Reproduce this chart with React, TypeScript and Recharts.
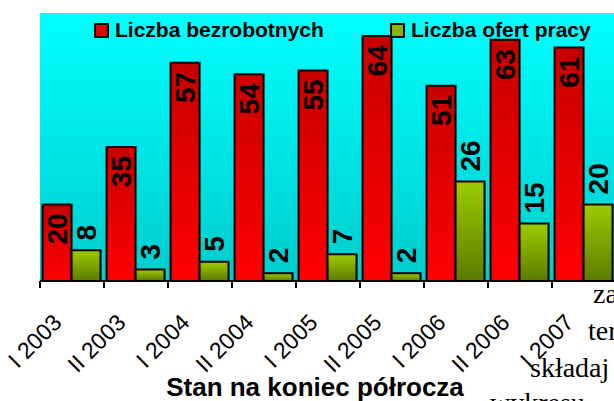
import React from "react";
import { BarChart, Bar, XAxis, YAxis, CartesianGrid, LabelList } from "recharts";

const categories = ["I 2003", "II 2003", "I 2004", "II 2004", "I 2005", "II 2005", "I 2006", "II 2006", "I 2007"];
const unemployed = [20, 35, 57, 54, 55, 64, 51, 63, 61];
const jobOffers = [8, 3, 5, 2, 7, 2, 26, 15, 20];
const seriesNames = ["Liczba bezrobotnych", "Liczba ofert pracy"];

const data = categories.map((cat, i) => ({ cat, u: unemployed[i], o: jobOffers[i] }));

const FONT = "'Liberation Sans', Arial, sans-serif";
const PLOT_LEFT = 40;
const PLOT_RIGHT = 616;
const PLOT_TOP = 13;
const PLOT_BOTTOM = 281;
const BAND = (PLOT_RIGHT - PLOT_LEFT) / categories.length;

function Tick(props: any) {
  const { x, payload } = props;
  const lx = x - BAND / 2;
  const tx = x - 9;
  const ty = PLOT_BOTTOM + 43;
  return (
    <g>
      <line x1={lx} x2={lx} y1={PLOT_BOTTOM} y2={PLOT_BOTTOM + 7} stroke="#000" strokeWidth={2} />
      <text
        x={tx}
        y={ty}
        textAnchor="end"
        transform={`rotate(-45 ${tx} ${ty})`}
        fontFamily={FONT}
        fontSize={23}
        fill="#000"
      >
        {payload.value}
      </text>
    </g>
  );
}

function InsideLabel(props: any) {
  const { x, y, width, value } = props;
  const cx = x + width / 2;
  const ty = y + 9;
  return (
    <text
      x={cx}
      y={ty}
      dy="0.36em"
      textAnchor="end"
      transform={`rotate(-90 ${cx} ${ty})`}
      fontFamily={FONT}
      fontWeight="bold"
      fontSize={28}
      fill="#000"
    >
      {value}
    </text>
  );
}

function AboveLabel(props: any) {
  const { x, y, width, value } = props;
  const cx = x + width / 2;
  const ty = y - 10;
  return (
    <text
      x={cx}
      y={ty}
      dy="0.36em"
      textAnchor="start"
      transform={`rotate(-90 ${cx} ${ty})`}
      fontFamily={FONT}
      fontWeight="bold"
      fontSize={28}
      fill="#000"
    >
      {value}
    </text>
  );
}

const legendColors = ["#e00000", "#88b400"];

function LegendBox() {
  return (
    <div
      style={{
        position: "absolute",
        left: 94,
        top: 18,
        display: "flex",
        fontFamily: FONT,
        fontWeight: "bold",
        fontSize: 21,
        lineHeight: "24px",
      }}
    >
      {seriesNames.map((name, i) => (
        <div key={name} style={{ display: "flex", alignItems: "center", width: i === 0 ? 296 : "auto" }}>
          <span
            style={{
              display: "inline-block",
              width: 11,
              height: 11,
              border: "2px solid #000",
              background: legendColors[i],
              marginRight: 6,
              marginTop: 1,
            }}
          />
          <span>{name}</span>
        </div>
      ))}
    </div>
  );
}

export default function App() {
  return (
    <div style={{ position: "absolute", left: 0, top: 0, width: 614, height: 401, overflow: "hidden", background: "#fff" }}>
      <BarChart
        width={620}
        height={401}
        data={data}
        margin={{ top: PLOT_TOP, right: 620 - PLOT_RIGHT, left: PLOT_LEFT, bottom: 0 }}
        barCategoryGap="4%"
        barGap={0}
      >
        <defs>
          <linearGradient id="bgGrad" x1="0" y1="0" x2="0" y2="1">
            <stop offset="0%" stopColor="#00ffff" />
            <stop offset="100%" stopColor="#00cccc" />
          </linearGradient>
          <linearGradient id="redGrad" x1="0" y1="0" x2="0" y2="1">
            <stop offset="0%" stopColor="#c80000" />
            <stop offset="100%" stopColor="#ff0000" />
          </linearGradient>
          <linearGradient id="greenGrad" x1="0" y1="0" x2="0" y2="1">
            <stop offset="0%" stopColor="#9ccc00" />
            <stop offset="100%" stopColor="#5c7a00" />
          </linearGradient>
        </defs>
        <CartesianGrid horizontal={false} vertical={false} fill="url(#bgGrad)" fillOpacity={1} stroke="none" />
        <YAxis hide domain={[0, 70]} />
        <XAxis
          dataKey="cat"
          interval={0}
          height={401 - PLOT_BOTTOM}
          tickLine={false}
          axisLine={{ stroke: "#000", strokeWidth: 2 }}
          tick={<Tick />}
        />
        <Bar dataKey="u" name={seriesNames[0]} fill="url(#redGrad)" stroke="#000" strokeWidth={2} isAnimationActive={false}>
          <LabelList dataKey="u" content={<InsideLabel />} />
        </Bar>
        <Bar dataKey="o" name={seriesNames[1]} fill="url(#greenGrad)" stroke="#000" strokeWidth={2} isAnimationActive={false}>
          <LabelList dataKey="o" content={<AboveLabel />} />
        </Bar>
      </BarChart>
      <LegendBox />
      <svg width={614} height={401} style={{ position: "absolute", left: 0, top: 0, pointerEvents: "none" }}>
        <text x={315} y={396} textAnchor="middle" fontFamily={FONT} fontWeight="bold" fontSize={26} fill="#000">
          Stan na koniec półrocza
        </text>
        <g fontFamily="'Liberation Serif', 'Times New Roman', serif" fontSize={28} fill="#000">
          <text x={593} y={303}>za</text>
          <text x={588} y={340}>ter</text>
          <text x={530} y={377}>składaj</text>
          <text x={490} y={412}>wykresu</text>
        </g>
      </svg>
    </div>
  );
}
